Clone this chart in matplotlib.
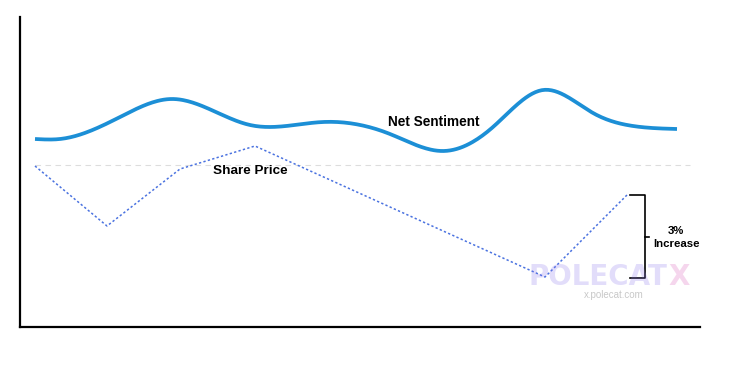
import numpy as np
import matplotlib.pyplot as plt

# readings, x in time units, y in chart units (up = higher)
sent_x = [35, 60, 120, 172, 250, 323, 390, 443, 493, 543, 593, 633, 677]
sent_y = [188, 188, 210, 228, 202, 205, 193, 176, 200, 237, 214, 201, 198]

price_x = [35, 107, 180, 255, 545, 627]
price_y = [161, 101, 158, 181, 50, 132]

baseline = 162


def smooth(x, y, n=400):
    # natural cubic spline through the read points
    x = np.asarray(x, float)
    y = np.asarray(y, float)
    k = len(x)
    h = np.diff(x)
    A = np.zeros((k, k))
    b = np.zeros(k)
    A[0, 0] = A[-1, -1] = 1
    for i in range(1, k - 1):
        A[i, i - 1] = h[i - 1]
        A[i, i] = 2 * (h[i - 1] + h[i])
        A[i, i + 1] = h[i]
        b[i] = 6 * ((y[i + 1] - y[i]) / h[i] - (y[i] - y[i - 1]) / h[i - 1])
    m = np.linalg.solve(A, b)
    xs = np.linspace(x[0], x[-1], n)
    idx = np.clip(np.searchsorted(x, xs) - 1, 0, k - 2)
    x0, x1 = x[idx], x[idx + 1]
    hh = x1 - x0
    a = (x1 - xs) / hh
    c = (xs - x0) / hh
    ys = (a * y[idx] + c * y[idx + 1]
          + ((a ** 3 - a) * m[idx] + (c ** 3 - c) * m[idx + 1]) * hh ** 2 / 6)
    return xs, ys


plt.rcParams['font.family'] = ['Liberation Sans', 'DejaVu Sans']

fig = plt.figure(figsize=(7.38, 3.65), dpi=100)
ax = fig.add_axes([20 / 738, 38 / 365, 680 / 738, 310 / 365])
ax.set_xlim(20, 700)
ax.set_ylim(0, 310)

ax.plot([35, 690], [baseline, baseline], color="#dddddd", lw=0.8, ls=(0, (5, 4)))

sx, sy = smooth(sent_x, sent_y)
ax.plot(sx, sy, color="#1c8fd6", lw=2.7, solid_capstyle="butt")
ax.plot(price_x, price_y, color="#4a72e0", lw=1.1, ls=(0, (1.5, 1.5)))

ax.text(434, 205, "Net Sentiment", fontsize=9.8, fontweight="bold", ha="center", va="center")
ax.text(250, 156, "Share Price", fontsize=9.7, fontweight="bold", ha="center", va="center")

# bracket showing the rise
top, bot = price_y[-1], price_y[-2] - 1
ax.plot([630, 645, 645, 630], [top, top, bot, bot], color="black", lw=1.2)
ax.plot([645, 649], [(top + bot) / 2] * 2, color="black", lw=1.2)
ax.text(676, (top + bot) / 2 - 1, "3%\nIncrease", fontsize=8.2, fontweight="bold",
        ha="center", va="center", linespacing=1.4)

# watermark
ax.text(598, 50, "POLECAT", fontsize=20, fontweight="bold", family="DejaVu Sans",
        color="#8c78ee", alpha=0.25, ha="center", va="center", zorder=5)
ax.text(679, 50, "X", fontsize=20, fontweight="bold", family="DejaVu Sans",
        color="#e58ccc", alpha=0.35, ha="center", va="center", zorder=5)
ax.text(614, 32, "x.polecat.com", fontsize=7, color="#c8c8c8", ha="center", va="center")

for s in ["top", "right"]:
    ax.spines[s].set_visible(False)
for s in ["left", "bottom"]:
    ax.spines[s].set_linewidth(1.6)
ax.set_xticks([])
ax.set_yticks([])

fig.savefig("out.png", dpi=100)
